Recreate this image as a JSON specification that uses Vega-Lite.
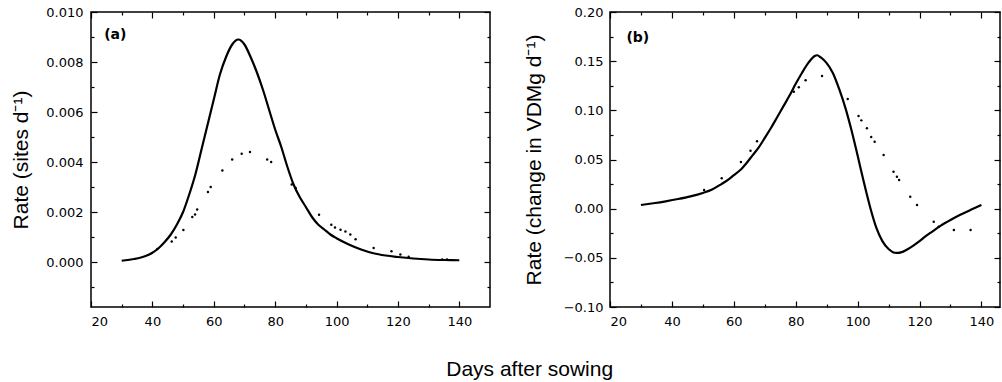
{
  "$schema": "https://vega.github.io/schema/vega-lite/v6.json",
  "background": "white",
  "padding": {"left": 10, "top": 5, "right": 0, "bottom": 5},
  "config": {
    "font": "DejaVu Sans",
    "view": {"stroke": "black", "strokeWidth": 1.5},
    "axis": {
      "grid": false,
      "domain": false,
      "labelFontSize": 13,
      "labelColor": "black",
      "tickColor": "black",
      "tickWidth": 1.2,
      "titleFontSize": 21,
      "titleFontWeight": "normal",
      "titleColor": "black",
      "labelFont": "DejaVu Sans",
      "titleFont": "Liberation Sans"
    },
    "title": {"font": "Liberation Sans"}
  },
  "title": {"text": "Days after sowing", "orient": "bottom", "anchor": "middle", "fontSize": 21, "fontWeight": "normal", "color": "black", "offset": 30, "dx": 24},
  "spacing": 30,
  "datasets": {
    "a_curve": [
      {"day": 30, "rate": 0.00005}, {"day": 32, "rate": 0.00008}, {"day": 34, "rate": 0.00012}, {"day": 36, "rate": 0.00017},
      {"day": 38, "rate": 0.00025}, {"day": 40, "rate": 0.00037}, {"day": 42, "rate": 0.00055}, {"day": 44, "rate": 0.0008},
      {"day": 46, "rate": 0.0011}, {"day": 48, "rate": 0.0015}, {"day": 50, "rate": 0.002}, {"day": 52, "rate": 0.0027},
      {"day": 54, "rate": 0.0035}, {"day": 56, "rate": 0.0045}, {"day": 58, "rate": 0.0055}, {"day": 60, "rate": 0.0065},
      {"day": 62, "rate": 0.0075}, {"day": 64, "rate": 0.0082}, {"day": 66, "rate": 0.0087}, {"day": 68, "rate": 0.0089},
      {"day": 70, "rate": 0.0087}, {"day": 72, "rate": 0.0082}, {"day": 74, "rate": 0.0076}, {"day": 76, "rate": 0.0069},
      {"day": 78, "rate": 0.0061}, {"day": 80, "rate": 0.0053}, {"day": 82, "rate": 0.0046}, {"day": 84, "rate": 0.0038},
      {"day": 86, "rate": 0.0031}, {"day": 88, "rate": 0.0026}, {"day": 90, "rate": 0.0022}, {"day": 92, "rate": 0.0018},
      {"day": 94, "rate": 0.0015}, {"day": 96, "rate": 0.0013}, {"day": 98, "rate": 0.0011}, {"day": 100, "rate": 0.00095},
      {"day": 104, "rate": 0.0007}, {"day": 108, "rate": 0.0005}, {"day": 112, "rate": 0.00035}, {"day": 116, "rate": 0.00026},
      {"day": 120, "rate": 0.0002}, {"day": 125, "rate": 0.00014}, {"day": 130, "rate": 0.0001}, {"day": 135, "rate": 0.00008},
      {"day": 140, "rate": 0.00007}
    ],
    "a_dots": [
      {"day": 41.6, "rate": 0.00052}, {"day": 46.3, "rate": 0.00082}, {"day": 47.6, "rate": 0.00098}, {"day": 50.1, "rate": 0.00128},
      {"day": 53.0, "rate": 0.0018}, {"day": 53.9, "rate": 0.0019}, {"day": 54.6, "rate": 0.0021}, {"day": 58.1, "rate": 0.0028},
      {"day": 59.0, "rate": 0.003}, {"day": 62.8, "rate": 0.00366}, {"day": 66.0, "rate": 0.0041}, {"day": 69.1, "rate": 0.00433},
      {"day": 71.8, "rate": 0.0044}, {"day": 77.4, "rate": 0.0041}, {"day": 78.7, "rate": 0.004}, {"day": 85.4, "rate": 0.0031},
      {"day": 86.7, "rate": 0.00296}, {"day": 94.3, "rate": 0.00189}, {"day": 98.3, "rate": 0.00149}, {"day": 99.5, "rate": 0.00138},
      {"day": 101.3, "rate": 0.00129}, {"day": 102.9, "rate": 0.00122}, {"day": 104.5, "rate": 0.0011}, {"day": 106.2, "rate": 0.00091},
      {"day": 112.1, "rate": 0.00056}, {"day": 117.9, "rate": 0.00043}, {"day": 120.8, "rate": 0.0003}, {"day": 123.5, "rate": 0.00021},
      {"day": 134.4, "rate": 0.0001}, {"day": 136.0, "rate": 0.0001}
    ],
    "b_curve": [
      {"day": 30, "rate": 0.0037}, {"day": 34, "rate": 0.0055}, {"day": 38, "rate": 0.0075}, {"day": 42, "rate": 0.0098},
      {"day": 46, "rate": 0.0125}, {"day": 50, "rate": 0.016}, {"day": 53, "rate": 0.0195}, {"day": 56, "rate": 0.025},
      {"day": 58, "rate": 0.029}, {"day": 60, "rate": 0.034}, {"day": 62, "rate": 0.039}, {"day": 64, "rate": 0.046},
      {"day": 66, "rate": 0.054}, {"day": 68, "rate": 0.062}, {"day": 70, "rate": 0.072}, {"day": 72, "rate": 0.082},
      {"day": 74, "rate": 0.093}, {"day": 76, "rate": 0.104}, {"day": 78, "rate": 0.115}, {"day": 80, "rate": 0.127},
      {"day": 82, "rate": 0.138}, {"day": 84, "rate": 0.148}, {"day": 85, "rate": 0.152}, {"day": 86, "rate": 0.155},
      {"day": 87, "rate": 0.156}, {"day": 88, "rate": 0.154}, {"day": 90, "rate": 0.148}, {"day": 92, "rate": 0.138},
      {"day": 94, "rate": 0.122}, {"day": 96, "rate": 0.103}, {"day": 98, "rate": 0.08}, {"day": 100, "rate": 0.054},
      {"day": 102, "rate": 0.027}, {"day": 104, "rate": 0.002}, {"day": 106, "rate": -0.019}, {"day": 108, "rate": -0.033},
      {"day": 110, "rate": -0.041}, {"day": 112, "rate": -0.0448}, {"day": 113, "rate": -0.045}, {"day": 114, "rate": -0.0445},
      {"day": 116, "rate": -0.0415}, {"day": 118, "rate": -0.0375}, {"day": 120, "rate": -0.033}, {"day": 122, "rate": -0.028},
      {"day": 124, "rate": -0.0235}, {"day": 127, "rate": -0.017}, {"day": 130, "rate": -0.0115}, {"day": 133, "rate": -0.0065},
      {"day": 136, "rate": -0.002}, {"day": 140, "rate": 0.0037}
    ],
    "b_dots": [
      {"day": 50.4, "rate": 0.019}, {"day": 56.1, "rate": 0.031}, {"day": 62.3, "rate": 0.0475}, {"day": 65.4, "rate": 0.059},
      {"day": 67.5, "rate": 0.0685}, {"day": 79.4, "rate": 0.119}, {"day": 81.0, "rate": 0.1234}, {"day": 83.2, "rate": 0.1305},
      {"day": 88.5, "rate": 0.135}, {"day": 96.8, "rate": 0.1115}, {"day": 100.3, "rate": 0.0943}, {"day": 101.2, "rate": 0.0898},
      {"day": 103.0, "rate": 0.0817}, {"day": 104.4, "rate": 0.0728}, {"day": 105.5, "rate": 0.068}, {"day": 108.4, "rate": 0.0546},
      {"day": 111.6, "rate": 0.0376}, {"day": 112.7, "rate": 0.0325}, {"day": 113.4, "rate": 0.0292}, {"day": 117.0, "rate": 0.0122},
      {"day": 119.2, "rate": 0.0037}, {"day": 124.6, "rate": -0.0133}, {"day": 126.2, "rate": -0.0184}, {"day": 131.1, "rate": -0.0217},
      {"day": 136.5, "rate": -0.0217}
    ],
    "labels_a": [{"day": 24.3, "rate": 0.0091, "label": "(a)"}],
    "labels_b": [{"day": 25.3, "rate": 0.174, "label": "(b)"}]
  },
  "hconcat": [
    {
      "width": 399,
      "height": 295,
      "resolve": {"axis": {"x": "independent", "y": "independent"}},
      "layer": [
        {
          "data": {"name": "a_curve"},
          "mark": {"type": "line", "color": "black", "strokeWidth": 2.2, "interpolate": "monotone"},
          "encoding": {
            "x": {"field": "day", "type": "quantitative", "scale": {"domain": [20, 150], "nice": false, "zero": false},
              "axis": {"title": null, "values": [20, 30, 40, 50, 60, 70, 80, 90, 100, 110, 120, 130, 140],
                "labelExpr": "datum.value % 20 === 0 ? datum.label : ''",
                "tickSize": {"condition": {"test": "datum.value % 20 === 0", "value": -6}, "value": -3},
                "labelPadding": 14}},
            "y": {"field": "rate", "type": "quantitative", "scale": {"domain": [-0.0018, 0.01], "nice": false, "zero": false},
              "axis": {"title": "Rate (sites d⁻¹)", "format": ".3f",
                "values": [-0.001, 0, 0.001, 0.002, 0.003, 0.004, 0.005, 0.006, 0.007, 0.008, 0.009, 0.01],
                "labelExpr": "abs(round(datum.value * 1000)) % 2 === 0 ? datum.label : ''",
                "tickSize": {"condition": {"test": "abs(round(datum.value * 1000)) % 2 === 0", "value": -6}, "value": -3},
                "labelPadding": 14, "titlePadding": 14}}
          }
        },
        {
          "data": {"name": "a_curve"},
          "mark": {"type": "line", "opacity": 0},
          "encoding": {
            "x": {"field": "day", "type": "quantitative",
              "axis": {"orient": "top", "title": null, "labels": false,
                "values": [20, 30, 40, 50, 60, 70, 80, 90, 100, 110, 120, 130, 140],
                "tickSize": {"condition": {"test": "datum.value % 20 === 0", "value": -6}, "value": -3}}},
            "y": {"field": "rate", "type": "quantitative",
              "axis": {"orient": "right", "title": null, "labels": false,
                "values": [-0.001, 0, 0.001, 0.002, 0.003, 0.004, 0.005, 0.006, 0.007, 0.008, 0.009, 0.01],
                "tickSize": {"condition": {"test": "abs(round(datum.value * 1000)) % 2 === 0", "value": -6}, "value": -3}}}
          }
        },
        {
          "data": {"name": "a_dots"},
          "mark": {"type": "point", "filled": true, "color": "black", "size": 6, "opacity": 1},
          "encoding": {
            "x": {"field": "day", "type": "quantitative", "axis": null},
            "y": {"field": "rate", "type": "quantitative", "axis": null}
          }
        },
        {
          "data": {"name": "labels_a"},
          "mark": {"type": "text", "align": "left", "baseline": "middle", "fontSize": 14, "fontWeight": "bold", "color": "black", "font": "DejaVu Sans"},
          "encoding": {
            "x": {"field": "day", "type": "quantitative", "axis": null},
            "y": {"field": "rate", "type": "quantitative", "axis": null},
            "text": {"field": "label"}
          }
        }
      ]
    },
    {
      "width": 390,
      "height": 295,
      "resolve": {"axis": {"x": "independent", "y": "independent"}},
      "layer": [
        {
          "data": {"name": "b_curve"},
          "mark": {"type": "line", "color": "black", "strokeWidth": 2.2, "interpolate": "monotone"},
          "encoding": {
            "x": {"field": "day", "type": "quantitative", "scale": {"domain": [20, 146], "nice": false, "zero": false},
              "axis": {"title": null, "values": [20, 30, 40, 50, 60, 70, 80, 90, 100, 110, 120, 130, 140],
                "labelExpr": "datum.value % 20 === 0 ? datum.label : ''",
                "tickSize": {"condition": {"test": "datum.value % 20 === 0", "value": -6}, "value": -3},
                "labelPadding": 14}},
            "y": {"field": "rate", "type": "quantitative", "scale": {"domain": [-0.1, 0.2], "nice": false, "zero": false},
              "axis": {"title": "Rate (change in VDMg d⁻¹)", "format": ".2f",
                "values": [-0.1, -0.075, -0.05, -0.025, 0, 0.025, 0.05, 0.075, 0.1, 0.125, 0.15, 0.175, 0.2],
                "labelExpr": "abs(round(datum.value * 40)) % 2 === 0 ? datum.label : ''",
                "tickSize": {"condition": {"test": "abs(round(datum.value * 40)) % 2 === 0", "value": -6}, "value": -3},
                "labelPadding": 13, "titlePadding": 19}}
          }
        },
        {
          "data": {"name": "b_curve"},
          "mark": {"type": "line", "opacity": 0},
          "encoding": {
            "x": {"field": "day", "type": "quantitative",
              "axis": {"orient": "top", "title": null, "labels": false,
                "values": [20, 30, 40, 50, 60, 70, 80, 90, 100, 110, 120, 130, 140],
                "tickSize": {"condition": {"test": "datum.value % 20 === 0", "value": -6}, "value": -3}}},
            "y": {"field": "rate", "type": "quantitative",
              "axis": {"orient": "right", "title": null, "labels": false,
                "values": [-0.1, -0.075, -0.05, -0.025, 0, 0.025, 0.05, 0.075, 0.1, 0.125, 0.15, 0.175, 0.2],
                "tickSize": {"condition": {"test": "abs(round(datum.value * 40)) % 2 === 0", "value": -6}, "value": -3}}}
          }
        },
        {
          "data": {"name": "b_dots"},
          "mark": {"type": "point", "filled": true, "color": "black", "size": 6, "opacity": 1},
          "encoding": {
            "x": {"field": "day", "type": "quantitative", "axis": null},
            "y": {"field": "rate", "type": "quantitative", "axis": null}
          }
        },
        {
          "data": {"name": "labels_b"},
          "mark": {"type": "text", "align": "left", "baseline": "middle", "fontSize": 14, "fontWeight": "bold", "color": "black", "font": "DejaVu Sans"},
          "encoding": {
            "x": {"field": "day", "type": "quantitative", "axis": null},
            "y": {"field": "rate", "type": "quantitative", "axis": null},
            "text": {"field": "label"}
          }
        }
      ]
    }
  ]
}
